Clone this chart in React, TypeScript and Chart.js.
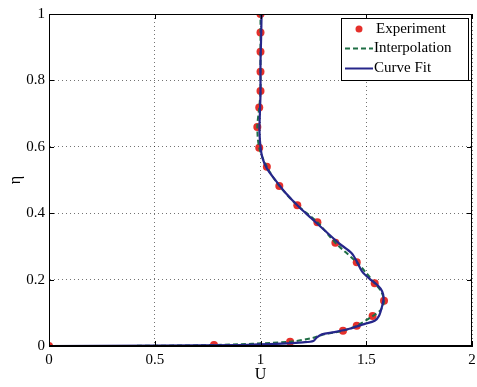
import React, { useEffect, useRef } from "react";
import { Chart, registerables } from "chart.js";

Chart.register(...registerables);

// Experiment (red dots)
const expU = [0, 0.78, 1.14, 1.39, 1.455, 1.53, 1.584, 1.54, 1.455, 1.354, 1.269, 1.174, 1.089, 1.03, 0.994, 0.985, 0.994, 1.0, 1.0, 1.0, 1.0, 1.0];
const expEta = [0, 0.003, 0.013, 0.046, 0.061, 0.09, 0.136, 0.189, 0.252, 0.311, 0.373, 0.424, 0.482, 0.54, 0.597, 0.66, 0.718, 0.768, 0.826, 0.886, 0.944, 1.0];

// Interpolation (green dashed)
const interpU = [0, 0.3, 0.78, 1.14, 1.25, 1.3, 1.39, 1.455, 1.53, 1.57, 1.584, 1.57, 1.54, 1.5, 1.455, 1.354, 1.269, 1.174, 1.089, 1.03, 0.994, 0.985, 0.994, 1.0, 1.0, 1.0, 1.0, 1.0];
const interpEta = [0, 0.0, 0.003, 0.013, 0.025, 0.035, 0.046, 0.061, 0.09, 0.11, 0.136, 0.165, 0.189, 0.22, 0.252, 0.311, 0.373, 0.424, 0.482, 0.54, 0.597, 0.66, 0.718, 0.768, 0.826, 0.886, 0.944, 1.0];

// Curve fit (navy solid)
const fitU = [0, 0.5, 0.9, 1.1, 1.2, 1.25, 1.265, 1.29, 1.35, 1.42, 1.49, 1.54, 1.56, 1.575, 1.582, 1.575, 1.555, 1.52, 1.48, 1.455, 1.43, 1.37, 1.3, 1.24, 1.18, 1.12, 1.07, 1.03, 1.01, 1.0, 0.995, 0.997, 1.0, 1.0, 1.003, 1.005];
const fitEta = [0, 0.001, 0.003, 0.007, 0.011, 0.015, 0.025, 0.035, 0.042, 0.052, 0.066, 0.076, 0.09, 0.12, 0.145, 0.165, 0.182, 0.2, 0.225, 0.255, 0.28, 0.31, 0.35, 0.385, 0.42, 0.46, 0.5, 0.535, 0.565, 0.6, 0.65, 0.7, 0.76, 0.85, 0.93, 1.0];

const xTicks = [0, 0.5, 1, 1.5, 2];
const yTicks = [0, 0.2, 0.4, 0.6, 0.8, 1];
const legendLabels = ["Experiment", "Interpolation", "Curve Fit"];

const RED = "#e5302b";
const GREEN = "#1f6e45";
const NAVY = "#26268a";
const FONT = "'Liberation Serif', 'DejaVu Serif', serif";

const toPts = (xs: number[], ys: number[]) => xs.map((x, i) => ({ x, y: ys[i] }));

const framePlugin = {
  id: "frame",
  afterDraw(chart: any) {
    const { ctx, chartArea: a, scales } = chart;
    ctx.save();
    ctx.strokeStyle = "#000";
    ctx.lineWidth = 1;
    ctx.strokeRect(a.left + 0.5, a.top + 0.5, a.right - a.left - 1, a.bottom - a.top - 1);
    // inside ticks
    const tl = 5;
    ctx.beginPath();
    xTicks.forEach((v) => {
      const px = Math.round(scales.x.getPixelForValue(v)) + 0.5;
      ctx.moveTo(px, a.bottom);
      ctx.lineTo(px, a.bottom - tl);
      ctx.moveTo(px, a.top);
      ctx.lineTo(px, a.top + tl);
    });
    yTicks.forEach((v) => {
      const py = Math.round(scales.y.getPixelForValue(v)) + 0.5;
      ctx.moveTo(a.left, py);
      ctx.lineTo(a.left + tl, py);
      ctx.moveTo(a.right, py);
      ctx.lineTo(a.right - tl, py);
    });
    ctx.stroke();

    // legend
    const bx = 341, by = 18, bw = 127, bh = 62;
    ctx.fillStyle = "#fff";
    ctx.fillRect(bx, by, bw, bh);
    ctx.strokeStyle = "#000";
    ctx.strokeRect(bx + 0.5, by + 0.5, bw, bh);
    ctx.font = `15px ${FONT}`;
    ctx.textBaseline = "middle";
    const rows = [29, 48.5, 68.5];
    ctx.fillStyle = RED;
    ctx.beginPath();
    ctx.arc(359, rows[0], 3.5, 0, Math.PI * 2);
    ctx.fill();
    ctx.strokeStyle = GREEN;
    ctx.lineWidth = 2;
    ctx.setLineDash([5, 3]);
    ctx.beginPath();
    ctx.moveTo(345, rows[1]);
    ctx.lineTo(373, rows[1]);
    ctx.stroke();
    ctx.setLineDash([]);
    ctx.strokeStyle = NAVY;
    ctx.beginPath();
    ctx.moveTo(345, rows[2]);
    ctx.lineTo(373, rows[2]);
    ctx.stroke();
    ctx.fillStyle = "#000";
    ctx.textAlign = "left";
    ctx.fillText(legendLabels[0], 376, rows[0]);
    ctx.fillText(legendLabels[1], 374, rows[1]);
    ctx.fillText(legendLabels[2], 374, rows[2]);
    ctx.restore();
  },
};

export default function App() {
  const ref = useRef<HTMLCanvasElement>(null);
  useEffect(() => {
    if (!ref.current) return;
    const grid = {
      color: "rgba(0,0,0,0.55)",
      lineWidth: 1,
      drawTicks: false,
    };
    const fmt = (v: any) => String(Number(v));
    const chart = new Chart(ref.current, {
      type: "scatter",
      data: {
        datasets: [
          {
            label: legendLabels[2],
            data: toPts(fitU, fitEta),
            showLine: true,
            borderColor: NAVY,
            borderWidth: 2.2,
            pointRadius: 0,
            tension: 0.3,
            order: 1,
          },
          {
            label: legendLabels[1],
            data: toPts(interpU, interpEta),
            showLine: true,
            borderColor: GREEN,
            borderWidth: 2,
            borderDash: [5, 3],
            pointRadius: 0,
            tension: 0.3,
            order: 2,
          },
          {
            label: legendLabels[0],
            data: toPts(expU, expEta),
            showLine: false,
            backgroundColor: RED,
            borderColor: RED,
            pointRadius: 4,
            pointBorderWidth: 0,
            order: 3,
          },
        ],
      },
      options: {
        responsive: false,
        animation: false,
        layout: { padding: { top: 14, right: 5, left: 0, bottom: 0 } },
        plugins: { legend: { display: false }, tooltip: { enabled: false } },
        scales: {
          x: {
            type: "linear",
            min: 0,
            max: 2,
            afterFit: (s: any) => { s.height = 41; s.paddingLeft = 0; s.paddingRight = 0; },
            afterBuildTicks: (s: any) => { s.ticks = xTicks.map((v) => ({ value: v })); },
            ticks: { color: "#000", font: { family: FONT, size: 15 }, padding: 5, callback: fmt },
            grid: { ...grid },
            border: { display: true, color: "#000", dash: [1, 3], width: 1 },
            title: { display: true, text: "U", color: "#000", font: { family: FONT, size: 16 }, padding: { top: 0, bottom: 3 } },
          },
          y: {
            type: "linear",
            min: 0,
            max: 1,
            afterFit: (s: any) => { s.width = 49; s.paddingTop = 0; s.paddingBottom = 0; },
            afterBuildTicks: (s: any) => { s.ticks = yTicks.map((v) => ({ value: v })); },
            ticks: { color: "#000", font: { family: FONT, size: 15 }, padding: 4, callback: fmt },
            grid: { ...grid },
            border: { display: true, color: "#000", dash: [1, 3], width: 1 },
            title: { display: true, text: "η", color: "#000", font: { family: FONT, size: 16 }, padding: { top: 6, bottom: 0 } },
          },
        },
      },
      plugins: [framePlugin],
    } as any);
    return () => chart.destroy();
  }, []);
  return (
    <div style={{ position: "absolute", left: 0, top: 0, width: 477, height: 387, background: "#fff" }}>
      <canvas ref={ref} width={477} height={387} style={{ width: 477, height: 387 }} />
    </div>
  );
}
